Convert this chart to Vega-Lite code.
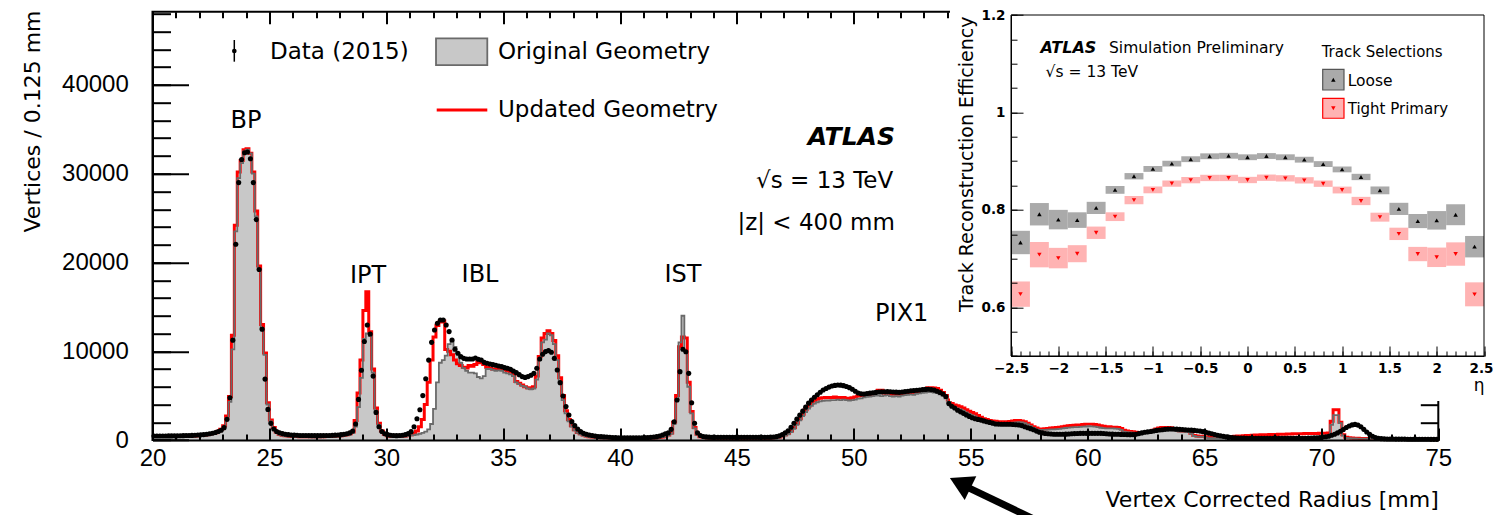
{
  "$schema": "https://vega.github.io/schema/vega-lite/v6.json",
  "width": 1285.8,
  "height": 428.3,
  "autosize": {"type": "none"},
  "padding": {"left": 152.5, "top": 11.7, "right": 54.7, "bottom": 75},
  "background": "white",
  "config": {
    "view": {"stroke": "black", "strokeWidth": 2},
    "font": "DejaVu Sans",
    "axis": {"grid": false, "tickColor": "black", "domainColor": "black", "labelColor": "black", "titleColor": "black", "titleFontWeight": "normal", "labelFlush": false, "labelOverlap": false, "labelBound": false}
  },
  "datasets": {
    "hist": [
      {"r":20.0625,"d":450,"o":380,"u":400},{"r":20.1875,"d":450,"o":380,"u":400},{"r":20.3125,"d":450,"o":380,"u":400},{"r":20.4375,"d":450,"o":380,"u":400},
      {"r":20.5625,"d":450,"o":380,"u":400},{"r":20.6875,"d":460,"o":380,"u":400},{"r":20.8125,"d":460,"o":390,"u":410},{"r":20.9375,"d":470,"o":390,"u":410},
      {"r":21.0625,"d":470,"o":390,"u":410},{"r":21.1875,"d":480,"o":400,"u":420},{"r":21.3125,"d":490,"o":400,"u":420},{"r":21.4375,"d":500,"o":410,"u":430},
      {"r":21.5625,"d":510,"o":420,"u":440},{"r":21.6875,"d":520,"o":430,"u":450},{"r":21.8125,"d":540,"o":440,"u":460},{"r":21.9375,"d":560,"o":460,"u":480},
      {"r":22.0625,"d":580,"o":480,"u":500},{"r":22.1875,"d":610,"o":510,"u":540},{"r":22.3125,"d":650,"o":550,"u":580},{"r":22.4375,"d":700,"o":600,"u":640},
      {"r":22.5625,"d":760,"o":680,"u":720},{"r":22.6875,"d":840,"o":780,"u":830},{"r":22.8125,"d":950,"o":900,"u":980},{"r":22.9375,"d":1100,"o":1100,"u":1200},
      {"r":23.0625,"d":1390,"o":1500,"u":1600},{"r":23.1875,"d":2325,"o":2500,"u":2700},{"r":23.3125,"d":4760,"o":4300,"u":4900},{"r":23.4375,"d":11250,"o":10200,"u":11800},
      {"r":23.5625,"d":22050,"o":23500,"u":24200},{"r":23.6875,"d":29000,"o":29500,"u":30200},{"r":23.8125,"d":31600,"o":31200,"u":31500},{"r":23.9375,"d":32360,"o":32500,"u":32700},
      {"r":24.0625,"d":32440,"o":32700,"u":32800},{"r":24.1875,"d":31690,"o":32300,"u":32300},{"r":24.3125,"d":29000,"o":30000,"u":30200},{"r":24.4375,"d":24830,"o":25200,"u":25800},
      {"r":24.5625,"d":19200,"o":19200,"u":19600},{"r":24.6875,"d":12490,"o":12600,"u":13000},{"r":24.8125,"d":6860,"o":9600,"u":9800},{"r":24.9375,"d":3450,"o":4000,"u":4200},
      {"r":25.0625,"d":1875,"o":2100,"u":2250},{"r":25.1875,"d":1240,"o":1300,"u":1400},{"r":25.3125,"d":950,"o":850,"u":900},{"r":25.4375,"d":820,"o":600,"u":650},
      {"r":25.5625,"d":720,"o":500,"u":540},{"r":25.6875,"d":650,"o":450,"u":480},{"r":25.8125,"d":600,"o":420,"u":440},{"r":25.9375,"d":570,"o":400,"u":420},
      {"r":26.0625,"d":550,"o":390,"u":400},{"r":26.1875,"d":530,"o":380,"u":390},{"r":26.3125,"d":515,"o":370,"u":380},{"r":26.4375,"d":505,"o":370,"u":380},
      {"r":26.5625,"d":500,"o":360,"u":370},{"r":26.6875,"d":495,"o":360,"u":370},{"r":26.8125,"d":490,"o":360,"u":370},{"r":26.9375,"d":490,"o":360,"u":370},
      {"r":27.0625,"d":490,"o":360,"u":370},{"r":27.1875,"d":490,"o":360,"u":380},{"r":27.3125,"d":495,"o":370,"u":380},{"r":27.4375,"d":500,"o":380,"u":390},
      {"r":27.5625,"d":510,"o":390,"u":400},{"r":27.6875,"d":525,"o":400,"u":420},{"r":27.8125,"d":545,"o":420,"u":440},{"r":27.9375,"d":570,"o":440,"u":460},
      {"r":28.0625,"d":600,"o":470,"u":490},{"r":28.1875,"d":640,"o":500,"u":530},{"r":28.3125,"d":700,"o":560,"u":600},{"r":28.4375,"d":800,"o":650,"u":700},
      {"r":28.5625,"d":1000,"o":800,"u":900},{"r":28.6875,"d":1800,"o":1500,"u":2200},{"r":28.8125,"d":4575,"o":3700,"u":5300},{"r":28.9375,"d":7850,"o":7000,"u":9000},
      {"r":29.0625,"d":11100,"o":11400,"u":14600},{"r":29.1875,"d":12950,"o":12000,"u":16700},{"r":29.3125,"d":11940,"o":11700,"u":12200},{"r":29.4375,"d":7200,"o":7600,"u":8000},
      {"r":29.5625,"d":3110,"o":3300,"u":3600},{"r":29.6875,"d":1500,"o":1700,"u":1900},{"r":29.8125,"d":950,"o":900,"u":1000},{"r":29.9375,"d":700,"o":600,"u":650},
      {"r":30.0625,"d":600,"o":450,"u":480},{"r":30.1875,"d":540,"o":400,"u":430},{"r":30.3125,"d":500,"o":380,"u":400},{"r":30.4375,"d":490,"o":370,"u":390},
      {"r":30.5625,"d":500,"o":380,"u":400},{"r":30.6875,"d":530,"o":390,"u":420},{"r":30.8125,"d":600,"o":420,"u":460},{"r":30.9375,"d":720,"o":460,"u":520},
      {"r":31.0625,"d":940,"o":520,"u":600},{"r":31.1875,"d":1500,"o":560,"u":750},{"r":31.3125,"d":2400,"o":620,"u":1000},{"r":31.4375,"d":3400,"o":700,"u":1500},
      {"r":31.5625,"d":5000,"o":800,"u":2300},{"r":31.6875,"d":6900,"o":950,"u":4000},{"r":31.8125,"d":9000,"o":1200,"u":6500},{"r":31.9375,"d":11000,"o":1800,"u":9000},
      {"r":32.0625,"d":12400,"o":3500,"u":11600},{"r":32.1875,"d":13150,"o":6500,"u":12900},{"r":32.3125,"d":13520,"o":8700,"u":13300},{"r":32.4375,"d":13520,"o":9000,"u":13400},
      {"r":32.5625,"d":12960,"o":9500,"u":10200},{"r":32.6875,"d":12210,"o":10800,"u":10000},{"r":32.8125,"d":11270,"o":11200,"u":9600},{"r":32.9375,"d":10220,"o":10500,"u":9000},
      {"r":33.0625,"d":9770,"o":9800,"u":8600},{"r":33.1875,"d":9390,"o":8700,"u":8400},{"r":33.3125,"d":9200,"o":8100,"u":8200},{"r":33.4375,"d":9130,"o":7800,"u":8100},
      {"r":33.5625,"d":9130,"o":7600,"u":8400},{"r":33.6875,"d":9130,"o":7600,"u":8300},{"r":33.8125,"d":9240,"o":7500,"u":8500},{"r":33.9375,"d":9100,"o":7100,"u":8800},
      {"r":34.0625,"d":9020,"o":6950,"u":8700},{"r":34.1875,"d":8750,"o":7200,"u":8500},{"r":34.3125,"d":8640,"o":8000,"u":8200},{"r":34.4375,"d":8570,"o":8000,"u":8100},
      {"r":34.5625,"d":8490,"o":7900,"u":8000},{"r":34.6875,"d":8420,"o":7800,"u":8000},{"r":34.8125,"d":8340,"o":7850,"u":8100},{"r":34.9375,"d":8270,"o":7800,"u":8000},
      {"r":35.0625,"d":8150,"o":7600,"u":7900},{"r":35.1875,"d":8080,"o":7500,"u":7800},{"r":35.3125,"d":7960,"o":7400,"u":7700},{"r":35.4375,"d":7780,"o":7200,"u":7500},
      {"r":35.5625,"d":7590,"o":6500,"u":6600},{"r":35.6875,"d":7360,"o":6300,"u":6400},{"r":35.8125,"d":7140,"o":6100,"u":6200},{"r":35.9375,"d":7050,"o":6000,"u":6000},
      {"r":36.0625,"d":7140,"o":5800,"u":5900},{"r":36.1875,"d":7290,"o":5700,"u":5800},{"r":36.3125,"d":7510,"o":5800,"u":6000},{"r":36.4375,"d":8080,"o":6800,"u":7200},
      {"r":36.5625,"d":9130,"o":9000,"u":9400},{"r":36.6875,"d":9660,"o":11000,"u":11500},{"r":36.8125,"d":9960,"o":11300,"u":12000},{"r":36.9375,"d":10070,"o":12000,"u":12300},
      {"r":37.0625,"d":9880,"o":11800,"u":12000},{"r":37.1875,"d":9200,"o":10800,"u":11200},{"r":37.3125,"d":7890,"o":9000,"u":9500},{"r":37.4375,"d":6460,"o":6500,"u":7000},
      {"r":37.5625,"d":4960,"o":4500,"u":5000},{"r":37.6875,"d":3760,"o":3000,"u":3300},{"r":37.8125,"d":2820,"o":2100,"u":2300},{"r":37.9375,"d":2070,"o":1500,"u":1600},
      {"r":38.0625,"d":1615,"o":1100,"u":1150},{"r":38.1875,"d":1240,"o":800,"u":850},{"r":38.3125,"d":940,"o":650,"u":700},{"r":38.4375,"d":750,"o":500,"u":550},
      {"r":38.5625,"d":650,"o":400,"u":450},{"r":38.6875,"d":560,"o":350,"u":380},{"r":38.8125,"d":500,"o":300,"u":330},{"r":38.9375,"d":450,"o":280,"u":300},
      {"r":39.0625,"d":400,"o":260,"u":280},{"r":39.1875,"d":375,"o":250,"u":260},{"r":39.3125,"d":350,"o":240,"u":250},{"r":39.4375,"d":330,"o":230,"u":240},
      {"r":39.5625,"d":310,"o":220,"u":230},{"r":39.6875,"d":290,"o":210,"u":220},{"r":39.8125,"d":275,"o":200,"u":210},{"r":39.9375,"d":260,"o":200,"u":210},
      {"r":40.0625,"d":255,"o":200,"u":210},{"r":40.1875,"d":255,"o":200,"u":210},{"r":40.3125,"d":255,"o":200,"u":210},{"r":40.4375,"d":255,"o":200,"u":210},
      {"r":40.5625,"d":255,"o":200,"u":210},{"r":40.6875,"d":255,"o":200,"u":210},{"r":40.8125,"d":255,"o":200,"u":210},{"r":40.9375,"d":260,"o":200,"u":210},
      {"r":41.0625,"d":270,"o":200,"u":210},{"r":41.1875,"d":280,"o":200,"u":210},{"r":41.3125,"d":300,"o":210,"u":220},{"r":41.4375,"d":330,"o":220,"u":230},
      {"r":41.5625,"d":380,"o":240,"u":250},{"r":41.6875,"d":450,"o":270,"u":290},{"r":41.8125,"d":560,"o":320,"u":340},{"r":41.9375,"d":700,"o":400,"u":430},
      {"r":42.0625,"d":800,"o":500,"u":550},{"r":42.1875,"d":1200,"o":700,"u":800},{"r":42.3125,"d":2060,"o":1800,"u":2000},{"r":42.4375,"d":4500,"o":4600,"u":5000},
      {"r":42.5625,"d":7700,"o":11000,"u":10500},{"r":42.6875,"d":10220,"o":14000,"u":11600},{"r":42.8125,"d":9950,"o":10000,"u":11500},{"r":42.9375,"d":7510,"o":6000,"u":6500},
      {"r":43.0625,"d":4200,"o":3000,"u":3200},{"r":43.1875,"d":1880,"o":1300,"u":1400},{"r":43.3125,"d":820,"o":600,"u":650},{"r":43.4375,"d":500,"o":350,"u":380},
      {"r":43.5625,"d":400,"o":280,"u":300},{"r":43.6875,"d":350,"o":250,"u":260},{"r":43.8125,"d":320,"o":220,"u":230},{"r":43.9375,"d":300,"o":200,"u":210},
      {"r":44.0625,"d":300,"o":200,"u":210},{"r":44.1875,"d":300,"o":200,"u":210},{"r":44.3125,"d":300,"o":200,"u":210},{"r":44.4375,"d":300,"o":200,"u":210},
      {"r":44.5625,"d":300,"o":200,"u":210},{"r":44.6875,"d":300,"o":200,"u":210},{"r":44.8125,"d":300,"o":200,"u":210},{"r":44.9375,"d":300,"o":200,"u":210},
      {"r":45.0625,"d":300,"o":200,"u":210},{"r":45.1875,"d":300,"o":200,"u":210},{"r":45.3125,"d":300,"o":200,"u":210},{"r":45.4375,"d":300,"o":200,"u":210},
      {"r":45.5625,"d":300,"o":200,"u":210},{"r":45.6875,"d":300,"o":200,"u":210},{"r":45.8125,"d":300,"o":200,"u":210},{"r":45.9375,"d":300,"o":200,"u":210},
      {"r":46.0625,"d":300,"o":200,"u":210},{"r":46.1875,"d":300,"o":200,"u":210},{"r":46.3125,"d":310,"o":200,"u":210},{"r":46.4375,"d":320,"o":200,"u":220},
      {"r":46.5625,"d":330,"o":200,"u":250},{"r":46.6875,"d":380,"o":250,"u":300},{"r":46.8125,"d":470,"o":300,"u":350},{"r":46.9375,"d":620,"o":400,"u":450},
      {"r":47.0625,"d":820,"o":500,"u":600},{"r":47.1875,"d":1050,"o":650,"u":750},{"r":47.3125,"d":1430,"o":900,"u":1000},{"r":47.4375,"d":1880,"o":1250,"u":1400},
      {"r":47.5625,"d":2350,"o":1700,"u":1900},{"r":47.6875,"d":2800,"o":2200,"u":2400},{"r":47.8125,"d":3250,"o":2700,"u":2900},{"r":47.9375,"d":3700,"o":3150,"u":3400},
      {"r":48.0625,"d":4150,"o":3550,"u":3800},{"r":48.1875,"d":4500,"o":3850,"u":4150},{"r":48.3125,"d":4820,"o":4100,"u":4400},{"r":48.4375,"d":5100,"o":4250,"u":4600},
      {"r":48.5625,"d":5380,"o":4350,"u":4700},{"r":48.6875,"d":5640,"o":4400,"u":4750},{"r":48.8125,"d":5800,"o":4450,"u":4800},{"r":48.9375,"d":5960,"o":4450,"u":4750},
      {"r":49.0625,"d":6080,"o":4500,"u":4800},{"r":49.1875,"d":6150,"o":4500,"u":4850},{"r":49.3125,"d":6200,"o":4550,"u":4800},{"r":49.4375,"d":6180,"o":4500,"u":4750},
      {"r":49.5625,"d":6120,"o":4550,"u":4800},{"r":49.6875,"d":6020,"o":4500,"u":4700},{"r":49.8125,"d":5900,"o":4450,"u":4650},{"r":49.9375,"d":5720,"o":4500,"u":4750},
      {"r":50.0625,"d":5500,"o":4550,"u":4850},{"r":50.1875,"d":5290,"o":4650,"u":4950},{"r":50.3125,"d":5200,"o":4700,"u":5000},{"r":50.4375,"d":5180,"o":4800,"u":5050},
      {"r":50.5625,"d":5230,"o":4850,"u":5100},{"r":50.6875,"d":5280,"o":4900,"u":5150},{"r":50.8125,"d":5330,"o":4950,"u":5200},{"r":50.9375,"d":5360,"o":5000,"u":5350},
      {"r":51.0625,"d":5400,"o":5000,"u":5600},{"r":51.1875,"d":5420,"o":4950,"u":5600},{"r":51.3125,"d":5440,"o":5000,"u":5300},{"r":51.4375,"d":5450,"o":5050,"u":5250},
      {"r":51.5625,"d":5430,"o":4950,"u":5200},{"r":51.6875,"d":5410,"o":4900,"u":5150},{"r":51.8125,"d":5390,"o":4950,"u":5200},{"r":51.9375,"d":5370,"o":4900,"u":5150},
      {"r":52.0625,"d":5400,"o":5000,"u":5250},{"r":52.1875,"d":5450,"o":5050,"u":5300},{"r":52.3125,"d":5500,"o":5100,"u":5350},{"r":52.4375,"d":5540,"o":5150,"u":5400},
      {"r":52.5625,"d":5570,"o":5100,"u":5350},{"r":52.6875,"d":5600,"o":5200,"u":5450},{"r":52.8125,"d":5640,"o":5250,"u":5500},{"r":52.9375,"d":5680,"o":5300,"u":5600},
      {"r":53.0625,"d":5700,"o":5350,"u":5750},{"r":53.1875,"d":5710,"o":5400,"u":5900},{"r":53.3125,"d":5680,"o":5400,"u":5900},{"r":53.4375,"d":5620,"o":5350,"u":5850},
      {"r":53.5625,"d":5500,"o":5300,"u":5800},{"r":53.6875,"d":5350,"o":5150,"u":5600},{"r":53.8125,"d":5180,"o":5000,"u":5350},{"r":53.9375,"d":4900,"o":4700,"u":5000},
      {"r":54.0625,"d":4100,"o":4300,"u":4500},{"r":54.1875,"d":3800,"o":3900,"u":4100},{"r":54.3125,"d":3600,"o":3700,"u":3950},{"r":54.4375,"d":3350,"o":3550,"u":3850},
      {"r":54.5625,"d":3170,"o":3450,"u":3750},{"r":54.6875,"d":3000,"o":3300,"u":3600},{"r":54.8125,"d":2830,"o":3100,"u":3400},{"r":54.9375,"d":2660,"o":2950,"u":3250},
      {"r":55.0625,"d":2500,"o":2800,"u":3100},{"r":55.1875,"d":2400,"o":2650,"u":2950},{"r":55.3125,"d":2320,"o":2500,"u":2750},{"r":55.4375,"d":2240,"o":2350,"u":2550},
      {"r":55.5625,"d":2150,"o":2250,"u":2400},{"r":55.6875,"d":2060,"o":2150,"u":2300},{"r":55.8125,"d":1980,"o":2050,"u":2200},{"r":55.9375,"d":1900,"o":1980,"u":2150},
      {"r":56.0625,"d":1800,"o":1950,"u":2100},{"r":56.1875,"d":1790,"o":1920,"u":2050},{"r":56.3125,"d":1780,"o":1900,"u":2050},{"r":56.4375,"d":1780,"o":1900,"u":2050},
      {"r":56.5625,"d":1770,"o":1900,"u":2050},{"r":56.6875,"d":1770,"o":1920,"u":2080},{"r":56.8125,"d":1750,"o":1950,"u":2150},{"r":56.9375,"d":1720,"o":1980,"u":2200},
      {"r":57.0625,"d":1690,"o":2000,"u":2200},{"r":57.1875,"d":1620,"o":1980,"u":2150},{"r":57.3125,"d":1500,"o":1900,"u":2050},{"r":57.4375,"d":1380,"o":1750,"u":1900},
      {"r":57.5625,"d":1280,"o":1550,"u":1700},{"r":57.6875,"d":1150,"o":1350,"u":1500},{"r":57.8125,"d":1000,"o":1200,"u":1350},{"r":57.9375,"d":880,"o":1130,"u":1250},
      {"r":58.0625,"d":800,"o":1130,"u":1250},{"r":58.1875,"d":740,"o":1150,"u":1280},{"r":58.3125,"d":700,"o":1180,"u":1300},{"r":58.4375,"d":670,"o":1200,"u":1350},
      {"r":58.5625,"d":650,"o":1200,"u":1380},{"r":58.6875,"d":640,"o":1220,"u":1400},{"r":58.8125,"d":640,"o":1250,"u":1450},{"r":58.9375,"d":650,"o":1300,"u":1500},
      {"r":59.0625,"d":660,"o":1350,"u":1550},{"r":59.1875,"d":680,"o":1400,"u":1600},{"r":59.3125,"d":700,"o":1420,"u":1620},{"r":59.4375,"d":720,"o":1450,"u":1650},
      {"r":59.5625,"d":740,"o":1450,"u":1680},{"r":59.6875,"d":750,"o":1480,"u":1700},{"r":59.8125,"d":750,"o":1500,"u":1750},{"r":59.9375,"d":750,"o":1520,"u":1770},
      {"r":60.0625,"d":750,"o":1550,"u":1780},{"r":60.1875,"d":750,"o":1530,"u":1770},{"r":60.3125,"d":750,"o":1500,"u":1750},{"r":60.4375,"d":750,"o":1450,"u":1700},
      {"r":60.5625,"d":750,"o":1380,"u":1600},{"r":60.6875,"d":730,"o":1330,"u":1550},{"r":60.8125,"d":700,"o":1310,"u":1500},{"r":60.9375,"d":680,"o":1300,"u":1480},
      {"r":61.0625,"d":660,"o":1300,"u":1450},{"r":61.1875,"d":650,"o":1280,"u":1430},{"r":61.3125,"d":640,"o":1250,"u":1400},{"r":61.4375,"d":630,"o":1150,"u":1300},
      {"r":61.5625,"d":620,"o":950,"u":1100},{"r":61.6875,"d":610,"o":880,"u":1000},{"r":61.8125,"d":600,"o":850,"u":950},{"r":61.9375,"d":610,"o":830,"u":920},
      {"r":62.0625,"d":650,"o":780,"u":880},{"r":62.1875,"d":720,"o":760,"u":850},{"r":62.3125,"d":800,"o":750,"u":840},{"r":62.4375,"d":870,"o":750,"u":850},
      {"r":62.5625,"d":920,"o":760,"u":880},{"r":62.6875,"d":960,"o":800,"u":950},{"r":62.8125,"d":1020,"o":900,"u":1100},{"r":62.9375,"d":1080,"o":1050,"u":1250},
      {"r":63.0625,"d":1120,"o":1150,"u":1350},{"r":63.1875,"d":1160,"o":1200,"u":1400},{"r":63.3125,"d":1200,"o":1220,"u":1420},{"r":63.4375,"d":1230,"o":1200,"u":1400},
      {"r":63.5625,"d":1240,"o":1180,"u":1380},{"r":63.6875,"d":1240,"o":1100,"u":1300},{"r":63.8125,"d":1220,"o":1000,"u":1150},{"r":63.9375,"d":1200,"o":950,"u":1050},
      {"r":64.0625,"d":1180,"o":940,"u":1000},{"r":64.1875,"d":1150,"o":930,"u":980},{"r":64.3125,"d":1130,"o":900,"u":950},{"r":64.4375,"d":1110,"o":700,"u":750},
      {"r":64.5625,"d":1080,"o":450,"u":520},{"r":64.6875,"d":1050,"o":380,"u":450},{"r":64.8125,"d":1000,"o":370,"u":430},{"r":64.9375,"d":940,"o":360,"u":420},
      {"r":65.0625,"d":860,"o":300,"u":380},{"r":65.1875,"d":780,"o":220,"u":330},{"r":65.3125,"d":700,"o":200,"u":300},{"r":65.4375,"d":620,"o":200,"u":300},
      {"r":65.5625,"d":540,"o":200,"u":300},{"r":65.6875,"d":480,"o":200,"u":320},{"r":65.8125,"d":410,"o":200,"u":340},{"r":65.9375,"d":350,"o":200,"u":360},
      {"r":66.0625,"d":300,"o":200,"u":380},{"r":66.1875,"d":270,"o":200,"u":400},{"r":66.3125,"d":250,"o":200,"u":420},{"r":66.4375,"d":230,"o":200,"u":440},
      {"r":66.5625,"d":220,"o":200,"u":460},{"r":66.6875,"d":210,"o":200,"u":480},{"r":66.8125,"d":200,"o":200,"u":500},{"r":66.9375,"d":200,"o":210,"u":520},
      {"r":67.0625,"d":200,"o":210,"u":540},{"r":67.1875,"d":200,"o":210,"u":560},{"r":67.3125,"d":200,"o":210,"u":570},{"r":67.4375,"d":200,"o":220,"u":580},
      {"r":67.5625,"d":200,"o":220,"u":590},{"r":67.6875,"d":200,"o":220,"u":600},{"r":67.8125,"d":200,"o":230,"u":610},{"r":67.9375,"d":200,"o":230,"u":620},
      {"r":68.0625,"d":200,"o":230,"u":630},{"r":68.1875,"d":200,"o":240,"u":640},{"r":68.3125,"d":200,"o":240,"u":650},{"r":68.4375,"d":200,"o":240,"u":660},
      {"r":68.5625,"d":200,"o":250,"u":670},{"r":68.6875,"d":200,"o":250,"u":680},{"r":68.8125,"d":200,"o":250,"u":690},{"r":68.9375,"d":200,"o":260,"u":700},
      {"r":69.0625,"d":200,"o":260,"u":700},{"r":69.1875,"d":200,"o":270,"u":710},{"r":69.3125,"d":200,"o":280,"u":720},{"r":69.4375,"d":210,"o":290,"u":720},
      {"r":69.5625,"d":220,"o":300,"u":730},{"r":69.6875,"d":240,"o":300,"u":730},{"r":69.8125,"d":260,"o":310,"u":740},{"r":69.9375,"d":290,"o":320,"u":750},
      {"r":70.0625,"d":330,"o":330,"u":750},{"r":70.1875,"d":370,"o":360,"u":760},{"r":70.3125,"d":430,"o":500,"u":800},{"r":70.4375,"d":530,"o":1700,"u":2100},
      {"r":70.5625,"d":650,"o":2800,"u":3400},{"r":70.6875,"d":800,"o":2800,"u":3400},{"r":70.8125,"d":980,"o":1900,"u":2000},{"r":70.9375,"d":1180,"o":500,"u":600},
      {"r":71.0625,"d":1400,"o":250,"u":300},{"r":71.1875,"d":1580,"o":200,"u":250},{"r":71.3125,"d":1700,"o":180,"u":220},{"r":71.4375,"d":1760,"o":170,"u":200},
      {"r":71.5625,"d":1680,"o":160,"u":190},{"r":71.6875,"d":1500,"o":150,"u":180},{"r":71.8125,"d":1200,"o":150,"u":170},{"r":71.9375,"d":900,"o":140,"u":160},
      {"r":72.0625,"d":640,"o":130,"u":150},{"r":72.1875,"d":420,"o":130,"u":140},{"r":72.3125,"d":280,"o":120,"u":140},{"r":72.4375,"d":200,"o":120,"u":130},
      {"r":72.5625,"d":150,"o":120,"u":130},{"r":72.6875,"d":130,"o":110,"u":130},{"r":72.8125,"d":120,"o":110,"u":120},{"r":72.9375,"d":110,"o":110,"u":120},
      {"r":73.0625,"d":110,"o":110,"u":120},{"r":73.1875,"d":100,"o":110,"u":120},{"r":73.3125,"d":100,"o":100,"u":120},{"r":73.4375,"d":100,"o":100,"u":110},
      {"r":73.5625,"d":100,"o":100,"u":110},{"r":73.6875,"d":90,"o":100,"u":110},{"r":73.8125,"d":90,"o":100,"u":110},{"r":73.9375,"d":90,"o":100,"u":110},
      {"r":74.0625,"d":90,"o":100,"u":110},{"r":74.1875,"d":85,"o":100,"u":110},{"r":74.3125,"d":80,"o":100,"u":110},{"r":74.4375,"d":80,"o":100,"u":110},
      {"r":74.5625,"d":80,"o":100,"u":110},{"r":74.6875,"d":75,"o":100,"u":110},{"r":74.8125,"d":75,"o":100,"u":110},{"r":74.9375,"d":75,"o":100,"u":110}
    ],
    "eff": [
      {"sel":"Loose","eta":-2.4,"lo":-2.5,"hi":-2.3,"eff":0.733,"effLo":0.709,"effHi":0.757},
      {"sel":"Loose","eta":-2.2,"lo":-2.3,"hi":-2.1,"eff":0.791,"effLo":0.768,"effHi":0.814},
      {"sel":"Loose","eta":-2.0,"lo":-2.1,"hi":-1.9,"eff":0.780,"effLo":0.760,"effHi":0.800},
      {"sel":"Loose","eta":-1.8,"lo":-1.9,"hi":-1.7,"eff":0.779,"effLo":0.763,"effHi":0.795},
      {"sel":"Loose","eta":-1.6,"lo":-1.7,"hi":-1.5,"eff":0.804,"effLo":0.7915,"effHi":0.8165},
      {"sel":"Loose","eta":-1.4,"lo":-1.5,"hi":-1.3,"eff":0.841,"effLo":0.833,"effHi":0.849},
      {"sel":"Loose","eta":-1.2,"lo":-1.3,"hi":-1.1,"eff":0.869,"effLo":0.8625,"effHi":0.8755},
      {"sel":"Loose","eta":-1.0,"lo":-1.1,"hi":-0.9,"eff":0.884,"effLo":0.878,"effHi":0.890},
      {"sel":"Loose","eta":-0.8,"lo":-0.9,"hi":-0.7,"eff":0.895,"effLo":0.889,"effHi":0.901},
      {"sel":"Loose","eta":-0.6,"lo":-0.7,"hi":-0.5,"eff":0.904,"effLo":0.898,"effHi":0.910},
      {"sel":"Loose","eta":-0.4,"lo":-0.5,"hi":-0.3,"eff":0.910,"effLo":0.904,"effHi":0.916},
      {"sel":"Loose","eta":-0.2,"lo":-0.3,"hi":-0.1,"eff":0.911,"effLo":0.905,"effHi":0.917},
      {"sel":"Loose","eta":0.0,"lo":-0.1,"hi":0.1,"eff":0.908,"effLo":0.902,"effHi":0.914},
      {"sel":"Loose","eta":0.2,"lo":0.1,"hi":0.3,"eff":0.9105,"effLo":0.9045,"effHi":0.9165},
      {"sel":"Loose","eta":0.4,"lo":0.3,"hi":0.5,"eff":0.908,"effLo":0.902,"effHi":0.914},
      {"sel":"Loose","eta":0.6,"lo":0.5,"hi":0.7,"eff":0.903,"effLo":0.897,"effHi":0.909},
      {"sel":"Loose","eta":0.8,"lo":0.7,"hi":0.9,"eff":0.894,"effLo":0.888,"effHi":0.900},
      {"sel":"Loose","eta":1.0,"lo":0.9,"hi":1.1,"eff":0.883,"effLo":0.877,"effHi":0.889},
      {"sel":"Loose","eta":1.2,"lo":1.1,"hi":1.3,"eff":0.8675,"effLo":0.861,"effHi":0.874},
      {"sel":"Loose","eta":1.4,"lo":1.3,"hi":1.5,"eff":0.840,"effLo":0.832,"effHi":0.848},
      {"sel":"Loose","eta":1.6,"lo":1.5,"hi":1.7,"eff":0.802,"effLo":0.7895,"effHi":0.8145},
      {"sel":"Loose","eta":1.8,"lo":1.7,"hi":1.9,"eff":0.777,"effLo":0.7625,"effHi":0.7915},
      {"sel":"Loose","eta":2.0,"lo":1.9,"hi":2.1,"eff":0.7785,"effLo":0.7595,"effHi":0.7975},
      {"sel":"Loose","eta":2.2,"lo":2.1,"hi":2.3,"eff":0.790,"effLo":0.7685,"effHi":0.8115},
      {"sel":"Loose","eta":2.4,"lo":2.3,"hi":2.5,"eff":0.7244,"effLo":0.7024,"effHi":0.7464},
      {"sel":"Tight Primary","eta":-2.4,"lo":-2.5,"hi":-2.3,"eff":0.627,"effLo":0.601,"effHi":0.653},
      {"sel":"Tight Primary","eta":-2.2,"lo":-2.3,"hi":-2.1,"eff":0.708,"effLo":0.682,"effHi":0.734},
      {"sel":"Tight Primary","eta":-2.0,"lo":-2.1,"hi":-1.9,"eff":0.701,"effLo":0.680,"effHi":0.722},
      {"sel":"Tight Primary","eta":-1.8,"lo":-1.9,"hi":-1.7,"eff":0.710,"effLo":0.6925,"effHi":0.7275},
      {"sel":"Tight Primary","eta":-1.6,"lo":-1.7,"hi":-1.5,"eff":0.753,"effLo":0.7403,"effHi":0.7657},
      {"sel":"Tight Primary","eta":-1.4,"lo":-1.5,"hi":-1.3,"eff":0.786,"effLo":0.777,"effHi":0.795},
      {"sel":"Tight Primary","eta":-1.2,"lo":-1.3,"hi":-1.1,"eff":0.820,"effLo":0.8115,"effHi":0.8285},
      {"sel":"Tight Primary","eta":-1.0,"lo":-1.1,"hi":-0.9,"eff":0.841,"effLo":0.834,"effHi":0.848},
      {"sel":"Tight Primary","eta":-0.8,"lo":-0.9,"hi":-0.7,"eff":0.854,"effLo":0.8475,"effHi":0.8605},
      {"sel":"Tight Primary","eta":-0.6,"lo":-0.7,"hi":-0.5,"eff":0.861,"effLo":0.8545,"effHi":0.8675},
      {"sel":"Tight Primary","eta":-0.4,"lo":-0.5,"hi":-0.3,"eff":0.8655,"effLo":0.859,"effHi":0.872},
      {"sel":"Tight Primary","eta":-0.2,"lo":-0.3,"hi":-0.1,"eff":0.8655,"effLo":0.859,"effHi":0.872},
      {"sel":"Tight Primary","eta":0.0,"lo":-0.1,"hi":0.1,"eff":0.8613,"effLo":0.8548,"effHi":0.8678},
      {"sel":"Tight Primary","eta":0.2,"lo":0.1,"hi":0.3,"eff":0.866,"effLo":0.8595,"effHi":0.8725},
      {"sel":"Tight Primary","eta":0.4,"lo":0.3,"hi":0.5,"eff":0.8647,"effLo":0.8582,"effHi":0.8712},
      {"sel":"Tight Primary","eta":0.6,"lo":0.5,"hi":0.7,"eff":0.8606,"effLo":0.8541,"effHi":0.8671},
      {"sel":"Tight Primary","eta":0.8,"lo":0.7,"hi":0.9,"eff":0.8537,"effLo":0.8472,"effHi":0.8602},
      {"sel":"Tight Primary","eta":1.0,"lo":0.9,"hi":1.1,"eff":0.8407,"effLo":0.8337,"effHi":0.8477},
      {"sel":"Tight Primary","eta":1.2,"lo":1.1,"hi":1.3,"eff":0.8182,"effLo":0.8097,"effHi":0.8267},
      {"sel":"Tight Primary","eta":1.4,"lo":1.3,"hi":1.5,"eff":0.785,"effLo":0.7758,"effHi":0.7942},
      {"sel":"Tight Primary","eta":1.6,"lo":1.5,"hi":1.7,"eff":0.7507,"effLo":0.738,"effHi":0.7634},
      {"sel":"Tight Primary","eta":1.8,"lo":1.7,"hi":1.9,"eff":0.7093,"effLo":0.6946,"effHi":0.724},
      {"sel":"Tight Primary","eta":2.0,"lo":1.9,"hi":2.1,"eff":0.7026,"effLo":0.6826,"effHi":0.7226},
      {"sel":"Tight Primary","eta":2.2,"lo":2.1,"hi":2.3,"eff":0.7093,"effLo":0.6853,"effHi":0.7333},
      {"sel":"Tight Primary","eta":2.4,"lo":2.3,"hi":2.5,"eff":0.6266,"effLo":0.602,"effHi":0.6512}
    ]
  },
  "resolve": {"scale": {"x": "independent", "y": "independent"}},
  "layer": [
    {
      "resolve": {"axis": {"x": "independent", "y": "independent"}},
      "layer": [
        {
          "data": {"name": "hist"},
          "mark": {"type": "area", "interpolate": "step", "color": "#c8c8c8"},
          "encoding": {
            "x": {"field": "r", "type": "quantitative", "scale": {"domain": [20, 75], "nice": false, "zero": false},
              "axis": {"orient": "bottom", "values": [20,25,30,35,40,45,50,55,60,65,70,75], "tickSize": -12, "tickWidth": 2, "domain": true, "domainWidth": 2,
                "labelFont": "Liberation Sans", "labelFontSize": 24, "labelPadding": 18.5, "format": "d",
                "title": "Vertex Corrected Radius [mm]", "titleFont": "DejaVu Sans", "titleFontSize": 22, "titleAlign": "right", "titleAnchor": "end", "titleBaseline": "alphabetic", "titleX": 1285.8, "titleY": 66.7, "zindex": 1}},
            "y": {"field": "o", "type": "quantitative", "scale": {"domain": [0, 48250], "nice": false, "zero": false},
              "axis": {"orient": "left", "values": [0,10000,20000,30000,40000], "tickSize": -36, "tickWidth": 2, "domain": true, "domainWidth": 2,
                "labelFont": "Liberation Sans", "labelFontSize": 24, "labelPadding": 60.2, "labelBaseline": "middle", "format": "d",
                "title": "Vertices / 0.125 mm", "titleFont": "DejaVu Sans", "titleFontSize": 22, "titleAngle": 270, "titleAlign": "right", "titleAnchor": "end", "titleBaseline": "alphabetic", "titleX": -113.5, "titleY": -1.7, "zindex": 1}}
          }
        },
        {
          "data": {"name": "hist"},
          "mark": {"type": "line", "interpolate": "step", "color": "#ff0000", "strokeWidth": 3},
          "encoding": {
            "x": {"field": "r", "type": "quantitative", "scale": {"domain": [20, 75], "nice": false, "zero": false},
              "axis": {"orient": "top", "values": [20,25,30,35,40,45,50], "tickSize": -12, "tickWidth": 2, "domain": false, "labels": false, "title": null, "zindex": 1}},
            "y": {"field": "u", "type": "quantitative", "scale": {"domain": [0, 48250], "nice": false, "zero": false},
              "axis": {"orient": "right", "values": [2000, 4000], "tickSize": -18, "tickWidth": 2, "domain": false, "labels": false, "title": null, "zindex": 1}}
          }
        },
        {
          "data": {"name": "hist"},
          "mark": {"type": "line", "interpolate": "step", "color": "#6a6a6a", "strokeWidth": 1.8},
          "encoding": {
            "x": {"field": "r", "type": "quantitative", "scale": {"domain": [20, 75], "nice": false, "zero": false},
              "axis": {"orient": "bottom", "values": [20,21,22,23,24,25,26,27,28,29,30,31,32,33,34,35,36,37,38,39,40,41,42,43,44,45,46,47,48,49,50,51,52,53,54,55,56,57,58,59,60,61,62,63,64,65,66,67,68,69,70,71,72,73,74,75], "tickSize": -6, "tickWidth": 2, "domain": false, "labels": false, "title": null, "zindex": 1}},
            "y": {"field": "o", "type": "quantitative", "scale": {"domain": [0, 48250], "nice": false, "zero": false},
              "axis": {"orient": "left", "values": [0,2000,4000,6000,8000,10000,12000,14000,16000,18000,20000,22000,24000,26000,28000,30000,32000,34000,36000,38000,40000,42000,44000,46000,48000], "tickSize": -18, "tickWidth": 2, "domain": false, "labels": false, "title": null, "zindex": 1}}
          }
        },
        {
          "data": {"name": "hist"},
          "mark": {"type": "point", "filled": true, "color": "black", "size": 26, "opacity": 1},
          "encoding": {
            "x": {"field": "r", "type": "quantitative", "scale": {"domain": [20, 75], "nice": false, "zero": false},
              "axis": {"orient": "top", "values": [20,21,22,23,24,25,26,27,28,29,30,31,32,33,34,35,36,37,38,39,40,41,42,43,44,45,46,47,48,49,50,51,52,53,54], "tickSize": -6, "tickWidth": 2, "domain": false, "labels": false, "title": null, "zindex": 1}},
            "y": {"field": "d", "type": "quantitative", "scale": {"domain": [0, 48250], "nice": false, "zero": false}, "axis": null}
          }
        },
        {
          "data": {"values": [{}]},
          "mark": {"type": "text", "text": "BP", "fontSize": 24, "align": "center", "baseline": "alphabetic", "color": "black"},
          "encoding": {"x": {"datum": 24.0, "type": "quantitative", "axis": null}, "y": {"datum": 35180, "type": "quantitative", "axis": null}}
        },
        {
          "data": {"values": [{}]},
          "mark": {"type": "text", "text": "IPT", "fontSize": 24, "align": "center", "baseline": "alphabetic", "color": "black"},
          "encoding": {"x": {"datum": 29.218, "type": "quantitative", "axis": null}, "y": {"datum": 17720, "type": "quantitative", "axis": null}}
        },
        {
          "data": {"values": [{}]},
          "mark": {"type": "text", "text": "IBL", "fontSize": 24, "align": "center", "baseline": "alphabetic", "color": "black"},
          "encoding": {"x": {"datum": 34.009, "type": "quantitative", "axis": null}, "y": {"datum": 17830, "type": "quantitative", "axis": null}}
        },
        {
          "data": {"values": [{}]},
          "mark": {"type": "text", "text": "IST", "fontSize": 24, "align": "center", "baseline": "alphabetic", "color": "black"},
          "encoding": {"x": {"datum": 42.692, "type": "quantitative", "axis": null}, "y": {"datum": 17830, "type": "quantitative", "axis": null}}
        },
        {
          "data": {"values": [{}]},
          "mark": {"type": "text", "text": "PIX1", "fontSize": 24, "align": "center", "baseline": "alphabetic", "color": "black"},
          "encoding": {"x": {"datum": 52.047, "type": "quantitative", "axis": null}, "y": {"datum": 13440, "type": "quantitative", "axis": null}}
        },
        {
          "data": {"values": [{}]},
          "mark": {"type": "text", "text": "ATLAS", "fontSize": 25, "fontStyle": "italic", "fontWeight": "bold", "align": "right", "baseline": "alphabetic", "color": "black"},
          "encoding": {"x": {"datum": 51.758, "type": "quantitative", "axis": null}, "y": {"datum": 33230, "type": "quantitative", "axis": null}}
        },
        {
          "data": {"values": [{}]},
          "mark": {"type": "text", "text": "√s = 13 TeV", "fontSize": 23, "align": "right", "baseline": "alphabetic", "color": "black"},
          "encoding": {"x": {"datum": 51.686, "type": "quantitative", "axis": null}, "y": {"datum": 28350, "type": "quantitative", "axis": null}}
        },
        {
          "data": {"values": [{}]},
          "mark": {"type": "text", "text": "|z| < 400 mm", "fontSize": 23, "align": "right", "baseline": "alphabetic", "color": "black"},
          "encoding": {"x": {"datum": 51.758, "type": "quantitative", "axis": null}, "y": {"datum": 23660, "type": "quantitative", "axis": null}}
        },
        {
          "data": {"values": [{}]},
          "mark": {"type": "rule", "color": "black", "strokeWidth": 1.5},
          "encoding": {"x": {"datum": 23.499, "type": "quantitative", "axis": null}, "y": {"datum": 45060, "type": "quantitative", "axis": null}, "y2": {"datum": 42620}}
        },
        {
          "data": {"values": [{}]},
          "mark": {"type": "point", "filled": true, "color": "black", "size": 22, "opacity": 1},
          "encoding": {"x": {"datum": 23.499, "type": "quantitative", "axis": null}, "y": {"datum": 43820, "type": "quantitative", "axis": null}}
        },
        {
          "data": {"values": [{}]},
          "mark": {"type": "text", "text": "Data (2015)", "fontSize": 23, "align": "left", "baseline": "alphabetic", "color": "black"},
          "encoding": {"x": {"datum": 25.026, "type": "quantitative", "axis": null}, "y": {"datum": 42890, "type": "quantitative", "axis": null}}
        },
        {
          "data": {"values": [{}]},
          "mark": {"type": "rect", "fill": "#c8c8c8", "stroke": "#6a6a6a", "strokeWidth": 1.8},
          "encoding": {"x": {"datum": 32.127, "type": "quantitative", "axis": null}, "x2": {"datum": 34.321}, "y": {"datum": 45250, "type": "quantitative", "axis": null}, "y2": {"datum": 42240}}
        },
        {
          "data": {"values": [{}]},
          "mark": {"type": "text", "text": "Original Geometry", "fontSize": 23, "align": "left", "baseline": "alphabetic", "color": "black"},
          "encoding": {"x": {"datum": 34.779, "type": "quantitative", "axis": null}, "y": {"datum": 42890, "type": "quantitative", "axis": null}}
        },
        {
          "data": {"values": [{}]},
          "mark": {"type": "rule", "color": "#ff0000", "strokeWidth": 3},
          "encoding": {"x": {"datum": 32.157, "type": "quantitative", "axis": null}, "x2": {"datum": 34.321}, "y": {"datum": 37180, "type": "quantitative", "axis": null}}
        },
        {
          "data": {"values": [{}]},
          "mark": {"type": "text", "text": "Updated Geometry", "fontSize": 23, "align": "left", "baseline": "alphabetic", "color": "black"},
          "encoding": {"x": {"datum": 34.779, "type": "quantitative", "axis": null}, "y": {"datum": 36420, "type": "quantitative", "axis": null}}
        },
        {
          "data": {"values": [{}]},
          "mark": {"type": "rule", "color": "black", "strokeWidth": 7},
          "encoding": {"x": {"datum": 54.6, "type": "quantitative", "axis": null}, "x2": {"datum": 57.96}, "y": {"datum": -5000, "type": "quantitative", "axis": null}, "y2": {"datum": -9238}}
        },
        {
          "data": {"values": [{}]},
          "mark": {"type": "point", "shape": "triangle-up", "filled": true, "color": "black", "size": 700, "angle": 296, "opacity": 1},
          "encoding": {"x": {"datum": 54.55, "type": "quantitative", "axis": null}, "y": {"datum": -4850, "type": "quantitative", "axis": null}}
        }
      ]
    },
    {
      "resolve": {"axis": {"x": "independent", "y": "independent"}, "scale": {"color": "independent", "shape": "independent"}},
      "layer": [
        {
          "data": {"values": [{}]},
          "mark": {"type": "rect", "fill": "white", "strokeWidth": 0},
          "encoding": {
            "x": {"datum": -3.145, "type": "quantitative", "scale": {"domain": [-2.5, 2.5], "range": [858.5, 1331.5], "nice": false, "zero": false}, "axis": null},
            "x2": {"datum": 2.7},
            "y": {"datum": 0.4076, "type": "quantitative", "scale": {"domain": [0.5, 1.2], "range": [344.3, 3.3], "nice": false, "zero": false}, "axis": null},
            "y2": {"datum": 1.26}
          }
        },
        {
          "data": {"name": "eff"},
          "mark": {"type": "rect", "strokeWidth": 0},
          "encoding": {
            "x": {"field": "lo", "type": "quantitative", "scale": {"domain": [-2.5, 2.5], "range": [858.5, 1331.5], "nice": false, "zero": false},
              "axis": {"orient": "bottom", "offset": -84, "values": [-2.5,-2,-1.5,-1,-0.5,0,0.5,1,1.5,2,2.5], "tickSize": -10, "tickWidth": 1, "domain": true, "domainWidth": 1,
                "labelFont": "DejaVu Sans", "labelFontWeight": "bold", "labelFontSize": 13.5, "labelPadding": 15, "format": "~g",
                "labelOffset": {"condition": {"test": "datum.value === 2.5", "value": -3}, "value": 0},
                "title": "η", "titleFont": "DejaVu Sans", "titleFontSize": 17, "titleAlign": "right", "titleAnchor": "end", "titleBaseline": "alphabetic", "titleX": 1331.5, "titleY": 34, "zindex": 1}},
            "x2": {"field": "hi"},
            "y": {"field": "effLo", "type": "quantitative", "scale": {"domain": [0.5, 1.2], "range": [344.3, 3.3], "nice": false, "zero": false},
              "axis": {"orient": "left", "offset": -858.5, "values": [0.6, 0.8, 1, 1.2], "tickSize": -12, "tickWidth": 1, "domain": true, "domainWidth": 1,
                "labelFont": "DejaVu Sans", "labelFontWeight": "bold", "labelFontSize": 13.5, "labelPadding": 18, "labelBaseline": "middle", "format": "~g",
                "title": "Track Reconstruction Efficiency", "titleFont": "DejaVu Sans", "titleFontSize": 19, "titleAngle": 270, "titleAlign": "right", "titleAnchor": "end", "titleBaseline": "alphabetic", "titleX": -39, "titleY": 4.3, "zindex": 1}},
            "y2": {"field": "effHi"},
            "color": {"field": "sel", "type": "nominal", "scale": {"domain": ["Loose", "Tight Primary"], "range": ["#aaaaaa", "#ffb3b3"]}, "legend": null}
          }
        },
        {
          "data": {"name": "eff"},
          "mark": {"type": "point", "filled": true, "size": 20, "opacity": 1},
          "encoding": {
            "x": {"field": "eta", "type": "quantitative", "scale": {"domain": [-2.5, 2.5], "range": [858.5, 1331.5], "nice": false, "zero": false},
              "axis": {"orient": "bottom", "offset": -84, "values": [-2.5,-2.4,-2.3,-2.2,-2.1,-2,-1.9,-1.8,-1.7,-1.6,-1.5,-1.4,-1.3,-1.2,-1.1,-1,-0.9,-0.8,-0.7,-0.6,-0.5,-0.4,-0.3,-0.2,-0.1,0,0.1,0.2,0.3,0.4,0.5,0.6,0.7,0.8,0.9,1,1.1,1.2,1.3,1.4,1.5,1.6,1.7,1.8,1.9,2,2.1,2.2,2.3,2.4,2.5], "tickSize": -5, "tickWidth": 1, "domain": false, "labels": false, "title": null, "zindex": 1}},
            "y": {"field": "eff", "type": "quantitative", "scale": {"domain": [0.5, 1.2], "range": [344.3, 3.3], "nice": false, "zero": false},
              "axis": {"orient": "left", "offset": -858.5, "values": [0.5,0.55,0.6,0.65,0.7,0.75,0.8,0.85,0.9,0.95,1,1.05,1.1,1.15,1.2], "tickSize": -6, "tickWidth": 1, "domain": false, "labels": false, "title": null, "zindex": 1}},
            "shape": {"field": "sel", "type": "nominal", "scale": {"domain": ["Loose", "Tight Primary"], "range": ["triangle-up", "triangle-down"]}, "legend": null},
            "color": {"field": "sel", "type": "nominal", "scale": {"domain": ["Loose", "Tight Primary"], "range": ["black", "#ff0000"]}, "legend": null}
          }
        },
        {
          "data": {"values": [{}]},
          "mark": {"type": "rect", "fillOpacity": 0, "stroke": "black", "strokeWidth": 1},
          "encoding": {"x": {"datum": -2.5, "type": "quantitative", "axis": null}, "x2": {"datum": 2.5}, "y": {"datum": 0.5, "type": "quantitative", "axis": null}, "y2": {"datum": 1.2}}
        },
        {
          "data": {"values": [{}]},
          "mark": {"type": "rect", "fill": "#aaaaaa", "stroke": "#555555", "strokeWidth": 1.2},
          "encoding": {"x": {"datum": 0.795, "type": "quantitative", "axis": null}, "x2": {"datum": 1.02}, "y": {"datum": 1.046, "type": "quantitative", "axis": null}, "y2": {"datum": 1.0885}}
        },
        {
          "data": {"values": [{}]},
          "mark": {"type": "rect", "fill": "#ffb3b3", "stroke": "#ff0000", "strokeWidth": 1.2},
          "encoding": {"x": {"datum": 0.795, "type": "quantitative", "axis": null}, "x2": {"datum": 1.02}, "y": {"datum": 0.988, "type": "quantitative", "axis": null}, "y2": {"datum": 1.029}}
        },
        {
          "data": {"values": [{}]},
          "mark": {"type": "point", "shape": "triangle-up", "filled": true, "color": "black", "size": 20, "opacity": 1},
          "encoding": {"x": {"datum": 0.907, "type": "quantitative", "axis": null}, "y": {"datum": 1.067, "type": "quantitative", "axis": null}}
        },
        {
          "data": {"values": [{}]},
          "mark": {"type": "point", "shape": "triangle-down", "filled": true, "color": "#ff0000", "size": 20, "opacity": 1},
          "encoding": {"x": {"datum": 0.907, "type": "quantitative", "axis": null}, "y": {"datum": 1.0085, "type": "quantitative", "axis": null}}
        },
        {
          "data": {"values": [{}]},
          "mark": {"type": "text", "text": "ATLAS", "fontSize": 16, "fontStyle": "italic", "fontWeight": "bold", "align": "left", "baseline": "alphabetic", "color": "black"},
          "encoding": {"x": {"datum": -2.189, "type": "quantitative", "axis": null}, "y": {"datum": 1.1214, "type": "quantitative", "axis": null}}
        },
        {
          "data": {"values": [{}]},
          "mark": {"type": "text", "text": "Simulation Preliminary", "fontSize": 15.5, "align": "left", "baseline": "alphabetic", "color": "black"},
          "encoding": {"x": {"datum": -1.464, "type": "quantitative", "axis": null}, "y": {"datum": 1.1214, "type": "quantitative", "axis": null}}
        },
        {
          "data": {"values": [{}]},
          "mark": {"type": "text", "text": "√s = 13 TeV", "fontSize": 15.5, "align": "left", "baseline": "alphabetic", "color": "black"},
          "encoding": {"x": {"datum": -2.134, "type": "quantitative", "axis": null}, "y": {"datum": 1.0721, "type": "quantitative", "axis": null}}
        },
        {
          "data": {"values": [{}]},
          "mark": {"type": "text", "text": "Track Selections", "fontSize": 15, "align": "left", "baseline": "alphabetic", "color": "black"},
          "encoding": {"x": {"datum": 0.784, "type": "quantitative", "axis": null}, "y": {"datum": 1.1144, "type": "quantitative", "axis": null}}
        },
        {
          "data": {"values": [{}]},
          "mark": {"type": "text", "text": "Loose", "fontSize": 15.5, "align": "left", "baseline": "alphabetic", "color": "black"},
          "encoding": {"x": {"datum": 1.059, "type": "quantitative", "axis": null}, "y": {"datum": 1.0542, "type": "quantitative", "axis": null}}
        },
        {
          "data": {"values": [{}]},
          "mark": {"type": "text", "text": "Tight Primary", "fontSize": 15, "align": "left", "baseline": "alphabetic", "color": "black"},
          "encoding": {"x": {"datum": 1.059, "type": "quantitative", "axis": null}, "y": {"datum": 0.9968, "type": "quantitative", "axis": null}}
        }
      ]
    }
  ]
}
